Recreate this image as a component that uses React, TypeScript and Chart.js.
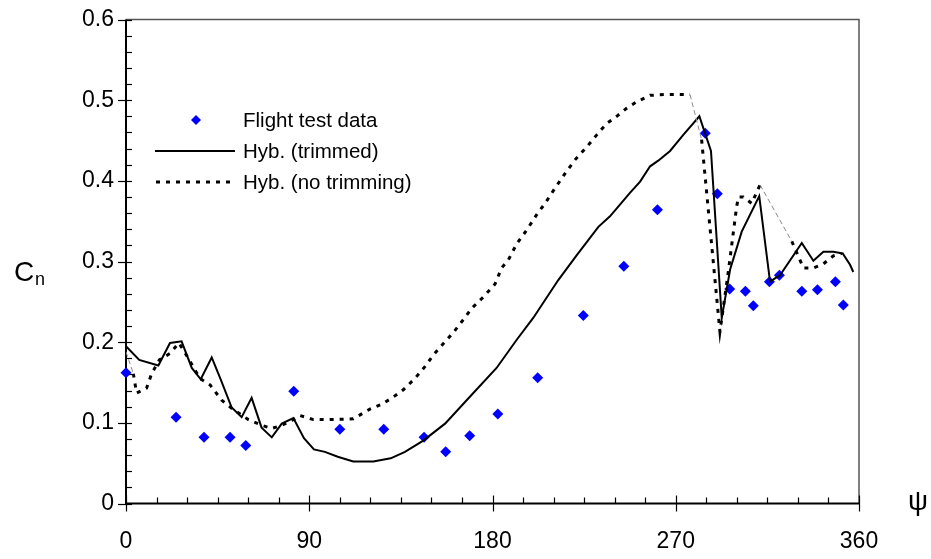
import React, { useEffect, useRef } from "react";
import { Chart, registerables } from "chart.js";

Chart.register(...registerables);

// ---- Data ----
const flightPsi = [0, 24.6, 38.3, 51.1, 58.8, 82.4, 105, 126.6, 146.4, 157, 168.8, 182.6, 202.2, 224.6, 244.5, 261, 284.5, 290.4, 296.5, 304.2, 308.1, 316, 320.9, 331.9, 339.6, 348.4, 352.3];
const flightCn = [0.162, 0.107, 0.082, 0.082, 0.072, 0.139, 0.092, 0.092, 0.082, 0.064, 0.084, 0.111, 0.156, 0.233, 0.294, 0.364, 0.459, 0.384, 0.266, 0.263, 0.245, 0.275, 0.283, 0.263, 0.265, 0.275, 0.246];

const trimPsi = [0, 6.5, 15.9, 21.6, 27.3, 32.3, 36.7, 42.1, 46.5, 51.9, 56.8, 61.7, 66.6, 71.6, 76.5, 82.2, 87.4, 92.3, 97.7, 104, 111.6, 121.5, 130, 137, 146, 156.7, 167.3, 182, 191.9, 200, 212.3, 221.4, 232, 237.7, 247.5, 252.5, 257.4, 261.4, 267.2, 273.7, 281.6, 287.3, 292.6, 296.7, 302.4, 311, 316.3, 321.2, 331.9, 337.6, 342.5, 347.4, 352, 355.6, 357.2];
const trimCn = [0.195, 0.178, 0.171, 0.199, 0.201, 0.168, 0.154, 0.181, 0.154, 0.119, 0.107, 0.131, 0.094, 0.082, 0.099, 0.106, 0.081, 0.067, 0.064, 0.058, 0.052, 0.052, 0.056, 0.064, 0.078, 0.099, 0.128, 0.168, 0.203, 0.23, 0.277, 0.308, 0.343, 0.356, 0.385, 0.399, 0.418, 0.425, 0.437, 0.457, 0.48, 0.437, 0.23, 0.29, 0.337, 0.381, 0.275, 0.283, 0.323, 0.301, 0.312, 0.312, 0.31, 0.296, 0.287];

const noTrimPsi = [0, 3.6, 5.2, 10.1, 12.6, 16.4, 21.6, 26, 30.6, 36.3, 41.3, 47, 51.9, 60.1, 66.6, 71.6, 76.5, 82.2, 85.5, 92, 100, 111.6, 119.8, 125.6, 131.3, 136.2, 141.9, 146.9, 150.9, 155.8, 160.8, 165.7, 169.8, 175.5, 181.2, 184.5, 187.8, 191.9, 196.8, 201.7, 205.8, 210.7, 215.6, 220.5, 226.3, 231.2, 236.1, 241, 245.9, 250.8, 257.4, 265, 277, 282.7, 291.7, 295.8, 299.9, 300.8, 303.2, 307.3, 311.4, 327, 332.7, 337.6, 342.5, 347.4, 351.5];
const noTrimCn = [0.188, 0.161, 0.137, 0.143, 0.161, 0.178, 0.186, 0.199, 0.18, 0.155, 0.147, 0.128, 0.118, 0.104, 0.097, 0.093, 0.097, 0.104, 0.109, 0.104, 0.104, 0.105, 0.117, 0.123, 0.132, 0.141, 0.155, 0.17, 0.184, 0.198, 0.212, 0.228, 0.242, 0.256, 0.272, 0.292, 0.302, 0.322, 0.339, 0.358, 0.372, 0.391, 0.409, 0.426, 0.442, 0.457, 0.471, 0.48, 0.49, 0.498, 0.506, 0.507, 0.507, 0.451, 0.213, 0.287, 0.368, 0.38, 0.38, 0.372, 0.395, 0.325, 0.292, 0.292, 0.297, 0.307, 0.31];

const seriesLabels = ["Flight test data", "Hyb. (trimmed)", "Hyb. (no trimming)"];
const xTickValues = [0, 90, 180, 270, 360];
const yTickValues = [0, 0.1, 0.2, 0.3, 0.4, 0.5, 0.6];

// segments of the dotted curve that render as a faint thin dash in the reference
const faintFromPsi = [0, 277, 311.4];

const FONT = "'Liberation Sans', Arial, sans-serif";

const zip = (xs: number[], ys: number[]) => xs.map((x, i) => ({ x, y: ys[i] }));

const decoPlugin = {
  id: "deco",
  beforeDatasetsDraw(chart: any) {
    const { ctx, chartArea: a, scales } = chart;
    const x = scales.x, y = scales.y;
    ctx.save();
    // top / right frame
    ctx.strokeStyle = "#555";
    ctx.lineWidth = 1.5;
    ctx.beginPath();
    ctx.moveTo(a.left, a.top);
    ctx.lineTo(a.right, a.top);
    ctx.lineTo(a.right, a.bottom);
    ctx.stroke();
    // axes
    ctx.strokeStyle = "#000";
    ctx.lineWidth = 2;
    ctx.beginPath();
    ctx.moveTo(a.left, a.top);
    ctx.lineTo(a.left, a.bottom);
    ctx.lineTo(a.right, a.bottom);
    ctx.stroke();
    // ticks
    ctx.lineWidth = 1.2;
    for (let v = 0; v <= 360; v += 15) {
      const px = Math.round(x.getPixelForValue(v)) + 0.5;
      const major = v % 90 === 0;
      ctx.beginPath();
      ctx.moveTo(px, a.bottom - (major ? 8 : 6));
      ctx.lineTo(px, a.bottom + (major ? 8 : 0));
      ctx.stroke();
    }
    for (let i = 0; i <= 30; i++) {
      const py = Math.round(y.getPixelForValue(i * 0.02)) + 0.5;
      const major = i % 5 === 0;
      ctx.beginPath();
      ctx.moveTo(a.left - (major ? 8 : 0), py);
      ctx.lineTo(a.left + 6, py);
      ctx.stroke();
    }
    ctx.restore();
  },
  afterDraw(chart: any) {
    const { ctx } = chart;
    ctx.save();
    ctx.fillStyle = "#000";
    ctx.textBaseline = "alphabetic";
    // y title C_n
    ctx.font = `28px ${FONT}`;
    ctx.fillText("C", 14, 281);
    ctx.font = `18px ${FONT}`;
    ctx.fillText("n", 35, 285);
    // x title psi
    ctx.font = `28px ${FONT}`;
    ctx.textAlign = "center";
    ctx.fillText("ψ", 918, 510);
    // legend
    ctx.textAlign = "left";
    ctx.textBaseline = "middle";
    ctx.font = `20.5px ${FONT}`;
    const rows = [120, 151, 182];
    // diamond
    ctx.fillStyle = "#0000ff";
    ctx.beginPath();
    const cx = 196, cy = rows[0], r = 5;
    ctx.moveTo(cx, cy - r);
    ctx.lineTo(cx + r, cy);
    ctx.lineTo(cx, cy + r);
    ctx.lineTo(cx - r, cy);
    ctx.closePath();
    ctx.fill();
    // solid sample
    ctx.strokeStyle = "#000";
    ctx.lineWidth = 2;
    ctx.beginPath();
    ctx.moveTo(155, rows[1]);
    ctx.lineTo(235, rows[1]);
    ctx.stroke();
    // dotted sample
    ctx.lineWidth = 3;
    ctx.setLineDash([4, 6]);
    ctx.beginPath();
    ctx.moveTo(156, rows[2]);
    ctx.lineTo(234, rows[2]);
    ctx.stroke();
    ctx.setLineDash([]);
    ctx.fillStyle = "#000";
    seriesLabels.forEach((t, i) => ctx.fillText(t, 243, rows[i] + 1));
    ctx.restore();
  },
};

export default function App() {
  const ref = useRef<HTMLCanvasElement | null>(null);
  useEffect(() => {
    if (!ref.current) return;
    const isFaint = (c: any) => faintFromPsi.includes(noTrimPsi[c.p0DataIndex]);
    const chart = new Chart(ref.current, {
      type: "scatter",
      data: {
        datasets: [
          {
            label: seriesLabels[2],
            data: zip(noTrimPsi, noTrimCn),
            showLine: true,
            borderColor: "#000",
            borderWidth: 3,
            borderDash: [4, 6],
            borderCapStyle: "butt",
            pointRadius: 0,
            tension: 0,
            segment: {
              borderColor: (c: any) => (isFaint(c) ? "#8a8a8a" : "#000"),
              borderWidth: (c: any) => (isFaint(c) ? 1 : 3),
              borderDash: (c: any) => (isFaint(c) ? [5, 3] : [4, 6]),
            },
          } as any,
          {
            label: seriesLabels[1],
            data: zip(trimPsi, trimCn),
            showLine: true,
            borderColor: "#000",
            borderWidth: 2,
            pointRadius: 0,
            tension: 0,
          },
          {
            label: seriesLabels[0],
            data: zip(flightPsi, flightCn),
            showLine: false,
            pointStyle: "rectRot",
            pointRadius: 5.5,
            pointBackgroundColor: "#0000ff",
            pointBorderColor: "#0000ff",
            pointBorderWidth: 0,
            clip: false,
          } as any,
        ],
      },
      options: {
        responsive: false,
        animation: false,
        devicePixelRatio: 1,
        layout: { padding: { top: 19.5, right: 72, left: 0, bottom: 0 } },
        plugins: { legend: { display: false }, tooltip: { enabled: false } },
        scales: {
          x: {
            type: "linear",
            min: 0,
            max: 360,
            afterFit: (s: any) => { s.height = 55.5; s.paddingLeft = 0; s.paddingRight = 0; },
            afterBuildTicks: (s: any) => { s.ticks = xTickValues.map((v) => ({ value: v })); },
            grid: { display: false, drawTicks: false },
            border: { display: false },
            ticks: {
              font: { family: FONT, size: 23 },
              color: "#000",
              padding: 24,
              maxRotation: 0,
              callback: (v: any) => String(v),
            },
          },
          y: {
            type: "linear",
            min: 0,
            max: 0.6,
            afterFit: (s: any) => { s.width = 126; s.paddingTop = 0; s.paddingBottom = 0; },
            afterBuildTicks: (s: any) => { s.ticks = yTickValues.map((v) => ({ value: v })); },
            grid: { display: false, drawTicks: false },
            border: { display: false },
            ticks: {
              font: { family: FONT, size: 23 },
              color: "#000",
              padding: 12,
              callback: (v: any) => String(Number(Number(v).toFixed(1))),
            },
          },
        },
      },
      plugins: [decoPlugin],
    });
    return () => chart.destroy();
  }, []);
  return (
    <div style={{ position: "fixed", left: 0, top: 0, width: 931, height: 559, background: "#fff" }}>
      <canvas ref={ref} width={931} height={559} style={{ width: 931, height: 559, display: "block" }} />
    </div>
  );
}
